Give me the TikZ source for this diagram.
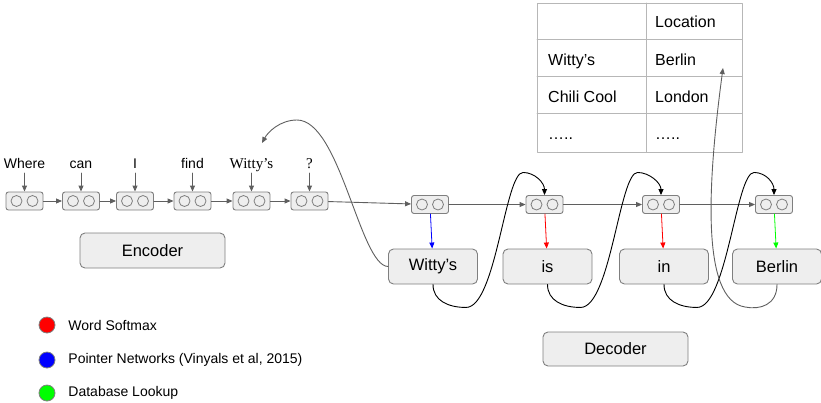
\documentclass[tikz,border=0pt]{standalone}
\usepackage{fontspec}
\setmainfont{Liberation Sans}
\newfontfamily\serifword{Liberation Serif}
\usetikzlibrary{positioning,arrows.meta}

\definecolor{cellfill}{HTML}{EEEEEE}
\definecolor{cellline}{HTML}{7F7F7F}
\definecolor{linkgray}{HTML}{5F5F5F}
\definecolor{gridgray}{HTML}{B7B7B7}

\begin{document}
\begin{tikzpicture}[x=1pt,y=-1pt,line cap=round,line join=round,
		font=\fontsize{14}{16}\selectfont,
		cell/.style={draw=cellline,fill=cellfill,rounded corners=2.5pt,minimum width=37pt,minimum height=18pt,inner sep=0pt,line width=0.9pt},
		wordbox/.style={draw=cellline,fill=cellfill,rounded corners=5pt,minimum width=89pt,minimum height=35pt,inner sep=0pt,line width=0.9pt,font=\fontsize{16.5}{19}\selectfont},
		stagebox/.style={wordbox,minimum width=145pt},
		headed/.style={-{Triangle[length=6pt,width=5pt]},line width=0.9pt},
		link/.style={headed,draw=linkgray},
		dot/.style={circle,draw=cellline,minimum size=16pt,inner sep=0pt,line width=0.8pt}]
	\useasboundingbox (0,0) rectangle (821,402);

	% encoder cells and the words read into them
	\foreach \n/\x/\w in {1/24.5/Where,2/81/can,3/135/I,4/192.5/find,5/251.5/{\serifword\fontsize{15}{17}\selectfont Witty’s},6/309.5/{\serifword\fontsize{15}{17}\selectfont ?}}{
		\node[cell] (enc\n) at (\x,201) {};
		\draw[cellline,line width=0.8pt] ([xshift=-8pt]enc\n.center) circle (5.5pt) ([xshift=8pt]enc\n.center) circle (5.5pt);
		\node[anchor=base] (w\n) at (\x,168) {\w};
		\draw[link] ([yshift=-5pt]w\n.base) -- (enc\n);
	}
	\foreach \a/\b in {1/2,2/3,3/4,4/5,5/6}
		\draw[link] (enc\a) -- (enc\b);

	% decoder cells and their outputs
	\foreach \n/\x/\w/\c in {1/430/Witty’s/blue,2/544.5/is/red,3/661/in/red,4/774/Berlin/green}{
		\node[cell] (dec\n) at (\x,204.5) {};
		\draw[cellline,line width=0.8pt] ([xshift=-8pt]dec\n.center) circle (5.5pt) ([xshift=8pt]dec\n.center) circle (5.5pt);
		\node[wordbox] (out\n) at (\x+3,266.5) {\w};
		\draw[headed,draw=\c,line width=0.8pt] (dec\n) -- (out\n);
	}
	\draw[link] (enc6) -- (dec1);
	\foreach \a/\b in {1/2,2/3,3/4}
		\draw[link] (dec\a) -- (dec\b);

	% each output is fed back into the next step
	\foreach \a/\b in {1/2,2/3,3/4}
		\draw[headed] (out\a.south) .. controls +(0,16) and +(-18,0) .. ++(33,23) .. controls +(30,0) and +(-18,0) .. ++(57,-135) .. controls +(12,0) and +(0,-12) .. (dec\b.north);

	\node[stagebox] (encoder) at (152.5,250.5) {Encoder};
	\node[stagebox,minimum height=34pt] (decoder) at (615.5,349) {Decoder};

	% lookup table
	\draw[gridgray,line width=0.9pt] (537,3) rectangle (742,152) (646,3) -- (646,152)
		\foreach \y in {39,76,113}{(537,\y) -- (742,\y)};
	\begin{scope}[every node/.style={anchor=base west,inner sep=0pt,font=\fontsize{16}{18}\selectfont}]
		\node (tloc) at (655,27) {Location};
		\node (twit) at (548,65) {Witty’s};
		\node (tber) at (655,65) {Berlin};
		\node (tchi) at (548,102) {Chili Cool};
		\node (tlon) at (655,102) {London};
		\node (tdot1) at (548,139) {…..};
		\node (tdot2) at (655,139) {…..};
	\end{scope}

	% pointer back to the input word, and the lookup into the table
	\coordinate (ptr) at (262,143);
	\coordinate (lookup) at (723,68);
	\draw[link] (out1.west) .. controls (360,266) and (340,120) .. (297,120) .. controls (280,120) and (268,132) .. (ptr);
	\draw[link] (out4.south) .. controls (777,305) and (760,310) .. (745,307) .. controls (700,300) and (708,180) .. (lookup);

	% legend
	\node[dot,fill=red] (dot1) at (47,325) {};
	\node[dot,fill=blue] (dot2) at (47,360) {};
	\node[dot,fill=green] (dot3) at (47,393) {};
	\node[right=9.5pt of dot1] (lab1) {Word Softmax};
	\node[right=9.5pt of dot2] (lab2) {Pointer Networks (Vinyals et al, 2015)};
	\node[right=9.5pt of dot3] (lab3) {Database Lookup};
\end{tikzpicture}
\end{document}
